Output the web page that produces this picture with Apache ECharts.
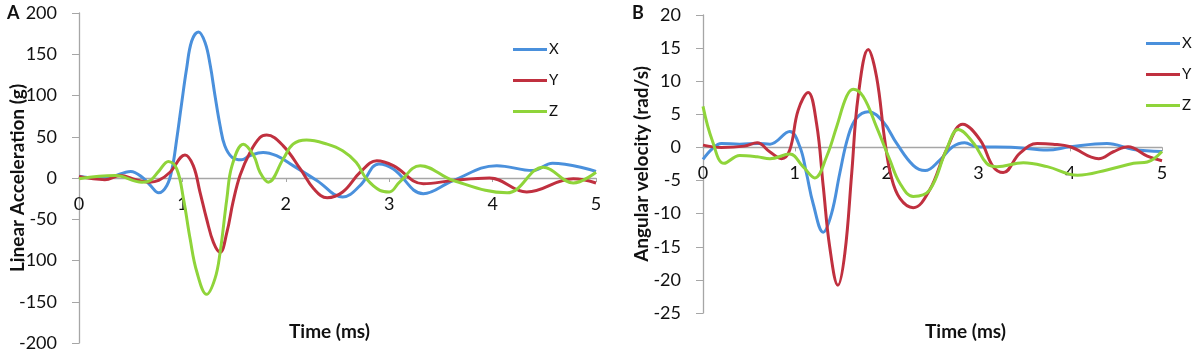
<!DOCTYPE html>
<html>
<head>
<meta charset="utf-8">
<script src="https://cdn.jsdelivr.net/npm/echarts@6/dist/echarts.min.js"></script>
<style>
  html, body { margin: 0; padding: 0; background: #fff; }
  #chart { width: 1192px; height: 358px; }
</style>
</head>
<body>
<div id="chart"></div>
<script>
// Panel A: linear acceleration (g) vs time (ms)
const accX = [[0,2],[0.15,0],[0.3,1],[0.5,8],[0.62,0],[0.69,-9],[0.77,-18],[0.85,-9],[0.9,11],[0.945,47],[0.99,88],[1.04,132],[1.09,166],[1.155,177],[1.22,164],[1.27,136],[1.315,100],[1.365,63],[1.41,39],[1.48,25],[1.57,22],[1.65,27],[1.78,31],[1.91,27],[2.07,15],[2.3,-3],[2.55,-23],[2.72,-9],[2.9,17],[3.04,11],[3.33,-19],[3.62,-3],[4.04,15],[4.39,9],[4.58,18],[5,8]];
const accY = [[0,2],[0.25,-2],[0.4,3],[0.55,-2],[0.68,-5],[0.77,-3],[0.88,7],[1.025,28],[1.105,15],[1.17,-17],[1.235,-50],[1.3,-78],[1.365,-90],[1.43,-66],[1.49,-29],[1.557,3],[1.654,31],[1.75,49],[1.815,52],[1.975,39],[2.14,11],[2.27,-13],[2.4,-24],[2.55,-17],[2.72,7],[2.88,21],[3.04,15],[3.33,-7],[3.62,-3],[3.97,0],[4.33,-17],[4.78,-1],[5,-6]];
const accZ = [[0,-1],[0.35,3],[0.61,-5],[0.69,-3],[0.77,8],[0.865,20],[0.945,11],[1.01,-25],[1.075,-74],[1.14,-114],[1.235,-141],[1.315,-122],[1.365,-90],[1.43,-25],[1.48,15],[1.59,41],[1.69,27],[1.75,7],[1.83,-5],[1.975,23],[2.07,41],[2.2,46],[2.4,41],[2.55,33],[2.68,19],[2.78,-1],[2.91,-15],[3.0,-17],[3.1,-5],[3.3,15],[3.62,-3],[4.14,-18],[4.49,13],[4.78,-6],[5,7]];

// Panel B: angular velocity (rad/s) vs time (ms)
const angX = [[0,-1.8],[0.1,-0.2],[0.2,0.6],[0.4,0.5],[0.6,0.6],[0.73,0.5],[0.945,2.4],[1.055,0.1],[1.127,-3.9],[1.2,-8.5],[1.31,-12.8],[1.4,-10],[1.49,-3.9],[1.58,1.6],[1.67,4.4],[1.8,5.4],[1.96,3.9],[2.11,0.6],[2.29,-2.7],[2.42,-3.5],[2.58,-1.9],[2.72,0.1],[2.85,0.7],[2.98,0.1],[3.4,0],[3.75,-0.4],[4.0,0.1],[4.4,0.6],[4.69,-0.3],[5,-0.6]];
const angY = [[0,0.35],[0.2,0],[0.45,0.2],[0.59,0.7],[0.727,-0.65],[0.855,-1.7],[0.945,-0.4],[1.036,5.6],[1.145,8.3],[1.237,3.6],[1.31,-5.9],[1.38,-15],[1.47,-20.8],[1.545,-16],[1.62,-3.9],[1.69,7.7],[1.8,14.8],[1.89,10.7],[1.98,1.1],[2.05,-4.4],[2.145,-7.7],[2.29,-9.1],[2.47,-6.4],[2.65,-0.4],[2.83,3.5],[3.02,1.1],[3.16,-2.9],[3.27,-3.8],[3.45,-0.9],[3.64,0.6],[3.81,0.5],[4.0,0.1],[4.31,-1.7],[4.47,-0.65],[4.63,0.1],[4.84,-1.3],[5,-2.0]];
const angZ = [[0,6.2],[0.1,1.1],[0.23,-2.4],[0.4,-1.2],[0.59,-1.4],[0.73,-1.7],[0.945,-1.0],[1.09,-2.9],[1.218,-4.6],[1.346,-1.4],[1.455,3.1],[1.564,7.7],[1.636,8.8],[1.745,7.7],[1.89,3.1],[2.036,-1.9],[2.145,-5.4],[2.29,-7.4],[2.47,-6.4],[2.65,-0.4],[2.78,2.7],[2.95,0.6],[3.09,-2.4],[3.2,-2.9],[3.49,-2.3],[3.75,-2.9],[4.08,-4.2],[4.4,-3.4],[4.69,-2.4],[4.84,-2.2],[5,-0.6]];

const seriesNames = ["X", "Y", "Z"];
const colors = ["#4a90dc", "#c0303f", "#8fd43a"];

const font = "Lato, 'Open Sans', sans-serif";
const text = "#111";
const axisGray = "#a6a6a6";

// x axis sits on the zero line; offset lifts it (labels too) from the grid bottom
function xAxisFor(gridIndex, offset) {
  return {
    type: "value", gridIndex, min: 0, max: 5, interval: 1,
    position: "bottom", offset,
    axisLine: { onZero: false, lineStyle: { color: axisGray, width: 1.3 } },
    axisTick: { show: true, length: 4, lineStyle: { color: axisGray } },
    axisLabel: { color: text, fontSize: 18, fontFamily: font, margin: 17 },
    splitLine: { show: false },
  };
}

function yAxisFor(gridIndex, min, max, interval, name) {
  return {
    type: "value", gridIndex, min, max, interval,
    name, nameLocation: "middle", nameGap: 52, nameRotate: 90,
    nameMoveOverlap: false,
    nameTextStyle: { color: text, fontSize: 19, fontWeight: "bold", fontFamily: font },
    axisLine: { show: true, lineStyle: { color: axisGray, width: 1.3 } },
    axisTick: { show: true, length: 7, lineStyle: { color: axisGray } },
    axisLabel: { color: text, fontSize: 18, fontFamily: font, margin: 22 },
    splitLine: { show: false },
  };
}

function line(name, data, i, axisIndex) {
  return {
    name, type: "line", data, xAxisIndex: axisIndex, yAxisIndex: axisIndex,
    smooth: 0.4, showSymbol: false, symbol: "none",
    lineStyle: { color: colors[i], width: 3 },
    itemStyle: { color: colors[i] },
  };
}

function legendAt(left, top) {
  return {
    left, top, orient: "vertical", data: seriesNames, icon: "rect",
    itemWidth: 34, itemHeight: 3, itemGap: 16,
    textStyle: { color: text, fontSize: 15, fontFamily: font, padding: [0, 0, 0, -3] },
    selectedMode: false,
  };
}

const chart = echarts.init(document.getElementById("chart"), null, { renderer: "canvas" });

chart.setOption({
  animation: false,
  backgroundColor: "#fff",
  grid: [
    { left: 79, top: 13, width: 517, height: 330 },
    { left: 703, top: 15, width: 459, height: 298 },
  ],
  xAxis: [xAxisFor(0, -165), xAxisFor(1, -165.6)],
  yAxis: [
    yAxisFor(0, -200, 200, 50, "Linear Acceleration (g)"),
    yAxisFor(1, -25, 20, 5, "Angular velocity (rad/s)"),
  ],
  legend: [legendAt(508, 37), legendAt(1141, 31)],
  series: [
    line("X", accX, 0, 0),
    line("Y", accY, 1, 0),
    line("Z", accZ, 2, 0),
    line("X", angX, 0, 1),
    line("Y", angY, 1, 1),
    line("Z", angZ, 2, 1),
  ],
  graphic: [
    { type: "text", left: 7, top: 4, style: { text: "A", fill: text, font: `bold 18px ${font}` } },
    { type: "text", left: 632, top: 4, style: { text: "B", fill: text, font: `bold 18px ${font}` } },
    { type: "text", left: 289, top: 322, style: { text: "Time (ms)", fill: text, font: `bold 19px ${font}` } },
    { type: "text", left: 925, top: 322, style: { text: "Time (ms)", fill: text, font: `bold 19px ${font}` } },
  ],
});
</script>
</body>
</html>
